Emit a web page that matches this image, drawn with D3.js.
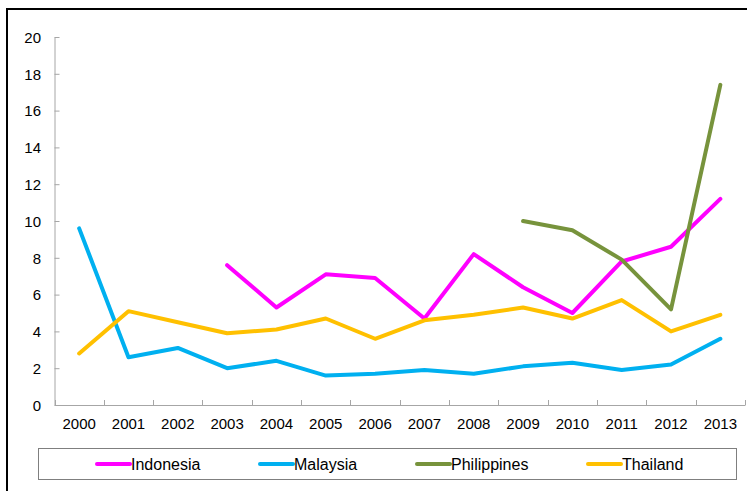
<!DOCTYPE html>
<html>
<head>
<meta charset="utf-8">
<script src="https://cdn.jsdelivr.net/npm/d3@7"></script>
<style>
  body { margin: 0; background: #fff; }
  svg { display: block; font-family: "Liberation Sans", Arial, sans-serif; }
  .axis path, .axis line { stroke: #a6a6a6; }
  .axis text { fill: #000; font-size: 15px; }
</style>
</head>
<body>
<svg id="chart"></svg>
<script>
const WIDTH = 747;
const HEIGHT = 491;

const years = ["2000", "2001", "2002", "2003", "2004", "2005", "2006",
  "2007", "2008", "2009", "2010", "2011", "2012", "2013"];
const yTicks = [0, 2, 4, 6, 8, 10, 12, 14, 16, 18, 20];

// null = no data for that year
const indonesia = [null, null, null, 7.6, 5.3, 7.1, 6.9, 4.7, 8.2, 6.4, 5.0, 7.8, 8.6, 11.2];
const malaysia = [9.6, 2.6, 3.1, 2.0, 2.4, 1.6, 1.7, 1.9, 1.7, 2.1, 2.3, 1.9, 2.2, 3.6];
const philippines = [null, null, null, null, null, null, null, null, null, 10.0, 9.5, 7.9, 5.2, 17.4];
const thailand = [2.8, 5.1, 4.5, 3.9, 4.1, 4.7, 3.6, 4.6, 4.9, 5.3, 4.7, 5.7, 4.0, 4.9];

const seriesNames = ["Indonesia", "Malaysia", "Philippines", "Thailand"];
const seriesColors = ["#ff00ff", "#00b0f0", "#77933c", "#ffc000"];
const seriesValues = [indonesia, malaysia, philippines, thailand];

const svg = d3.select("#chart").attr("width", WIDTH).attr("height", HEIGHT);

/* outer frame (right and bottom edges fall outside the picture) */
svg.append("rect")
  .attr("x", 7).attr("y", 9)
  .attr("width", 800).attr("height", 600)
  .attr("fill", "none").attr("stroke", "#000").attr("stroke-width", 2);

const x = d3.scaleBand().domain(years).range([54.5, 745]);
const y = d3.scaleLinear().domain([0, 20]).range([405, 37]);

/* y axis, ticks pointing inward */
svg.append("g")
  .attr("class", "axis")
  .attr("transform", "translate(54.5,0)")
  .call(d3.axisLeft(y).tickValues(yTicks).tickSizeInner(-5).tickSizeOuter(0).tickPadding(13.5))
  .call((g) => g.selectAll("text").attr("dy", "0.35em"));

/* x axis: labels centred in the band, ticks on the band edges */
const xAxis = svg.append("g")
  .attr("class", "axis")
  .attr("transform", "translate(0,405)")
  .call(d3.axisBottom(x).tickSize(0).tickSizeOuter(0).tickPadding(13));

const edges = years.map((d) => x(d)).concat([x.range()[1]]);
xAxis.selectAll(".edge")
  .data(edges)
  .enter()
  .append("line")
  .attr("class", "edge")
  .attr("x1", (d) => Math.round(d) + 0.5)
  .attr("x2", (d) => Math.round(d) + 0.5)
  .attr("y1", 0)
  .attr("y2", -5);

/* series lines */
const line = d3.line()
  .defined((d) => d != null)
  .x((d, i) => x(years[i]) + x.bandwidth() / 2)
  .y((d) => y(d));

svg.append("g")
  .selectAll("path")
  .data(seriesValues)
  .enter()
  .append("path")
  .attr("fill", "none")
  .attr("stroke", (d, i) => seriesColors[i])
  .attr("stroke-width", 4)
  .attr("stroke-linejoin", "round")
  .attr("stroke-linecap", "round")
  .attr("d", line);

/* legend */
const legendX = [97, 260, 417, 588];
const legend = svg.append("g");
legend.append("rect")
  .attr("x", 38.5).attr("y", 448.5)
  .attr("width", 698).attr("height", 31)
  .attr("fill", "#fff").attr("stroke", "#7f7f7f").attr("stroke-width", 1);

const items = legend.selectAll(".item")
  .data(seriesNames)
  .enter()
  .append("g")
  .attr("class", "item")
  .attr("transform", (d, i) => `translate(${legendX[i]},464)`);

items.append("line")
  .attr("x1", 0).attr("x2", 33)
  .attr("stroke", (d, i) => seriesColors[i])
  .attr("stroke-width", 4)
  .attr("stroke-linecap", "round");

items.append("text")
  .attr("x", 34)
  .attr("dy", "0.35em")
  .attr("font-size", 16)
  .text((d) => d);
</script>
</body>
</html>
